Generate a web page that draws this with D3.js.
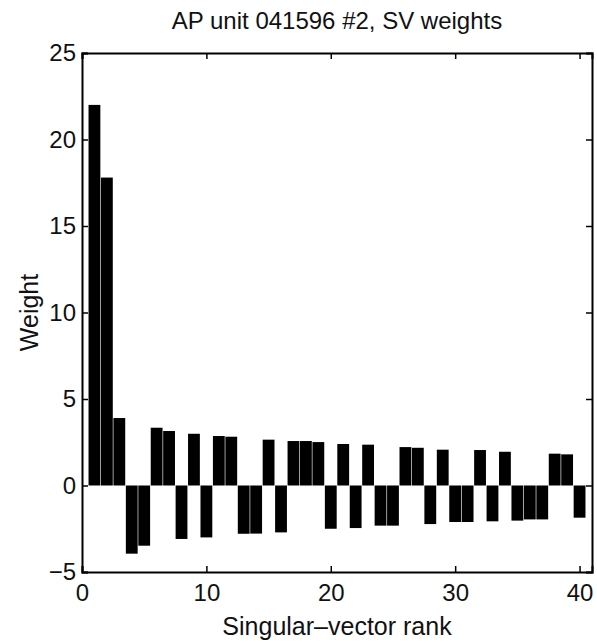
<!DOCTYPE html>
<html>
<head>
<meta charset="utf-8">
<script src="https://cdn.jsdelivr.net/npm/d3@7"></script>
<style>
  body { margin: 0; background: #fff; }
  text { font-family: "Liberation Sans", Arial, sans-serif; fill: #111; }
</style>
</head>
<body>
<svg id="chart" width="597" height="643"></svg>
<script>
// singular-vector rank 1..40 and their weights
const ranks = d3.range(1, 41);
const weights = [
  22.0, 17.8, 3.9, -3.94, -3.48, 3.34, 3.15, -3.09, 2.99, -3.0,
  2.86, 2.82, -2.79, -2.78, 2.65, -2.71, 2.57, 2.57, 2.51, -2.5,
  2.4, -2.46, 2.36, -2.32, -2.32, 2.22, 2.18, -2.23, 2.07, -2.11,
  -2.11, 2.05, -2.07, 1.95, -2.03, -1.96, -1.96, 1.84, 1.8, -1.86
];
const xTicks = [0, 10, 20, 30, 40];
const yTicks = [-5, 0, 5, 10, 15, 20, 25];

const margin = {top: 53, right: 5, bottom: 71, left: 82};
const width = 597 - margin.left - margin.right;
const height = 643 - margin.top - margin.bottom;

const svg = d3.select("#chart");
const g = svg.append("g")
  .attr("transform", "translate(" + margin.left + "," + margin.top + ")");

const x = d3.scaleLinear().domain([0, 41]).range([0, width]);
const y = d3.scaleLinear().domain([-5, 25]).range([height, 0]);

// bars
const bw = x(0.95) - x(0);
g.selectAll("rect.bar")
  .data(ranks)
  .enter()
  .append("rect")
  .attr("class", "bar")
  .attr("x", d => x(d) - bw / 2)
  .attr("width", bw)
  .attr("y", (d, i) => y(Math.max(0, weights[i])))
  .attr("height", (d, i) => Math.abs(y(weights[i]) - y(0)))
  .attr("fill", "#000");

// axes, ticks pointing inward like matlab
const tickLen = 6;
g.append("g")
  .attr("transform", "translate(0," + height + ")")
  .call(d3.axisBottom(x).tickValues(xTicks).tickSize(-tickLen).tickPadding(12))
  .call(a => a.selectAll("text").attr("dy", "0.71em"));
g.append("g")
  .call(d3.axisTop(x).tickValues(xTicks).tickSize(-tickLen).tickFormat(""));
g.append("g")
  .call(d3.axisLeft(y).tickValues(yTicks).tickSize(-tickLen).tickPadding(6)
    .tickFormat(d => d < 0 ? "\u2212" + Math.abs(d) : d));
g.append("g")
  .attr("transform", "translate(" + width + ",0)")
  .call(d3.axisRight(y).tickValues(yTicks).tickSize(-tickLen).tickFormat(""));

g.selectAll(".domain").attr("stroke", "#000").attr("stroke-width", 2);
g.selectAll(".tick line").attr("stroke", "#000").attr("stroke-width", 1.5);
g.selectAll(".tick text").style("font-size", "24px").attr("fill", "#111");

// labels
svg.append("text")
  .attr("x", margin.left + width / 2)
  .attr("y", 29)
  .attr("text-anchor", "middle")
  .style("font-size", "24px")
  .text("AP unit 041596 #2, SV weights");

svg.append("text")
  .attr("x", margin.left + width / 2)
  .attr("y", 635)
  .attr("text-anchor", "middle")
  .style("font-size", "25px")
  .text("Singular\u2013vector rank");

svg.append("text")
  .attr("transform", "translate(38," + (margin.top + height / 2) + ") rotate(-90)")
  .attr("text-anchor", "middle")
  .style("font-size", "25px")
  .text("Weight");
</script>
</body>
</html>
